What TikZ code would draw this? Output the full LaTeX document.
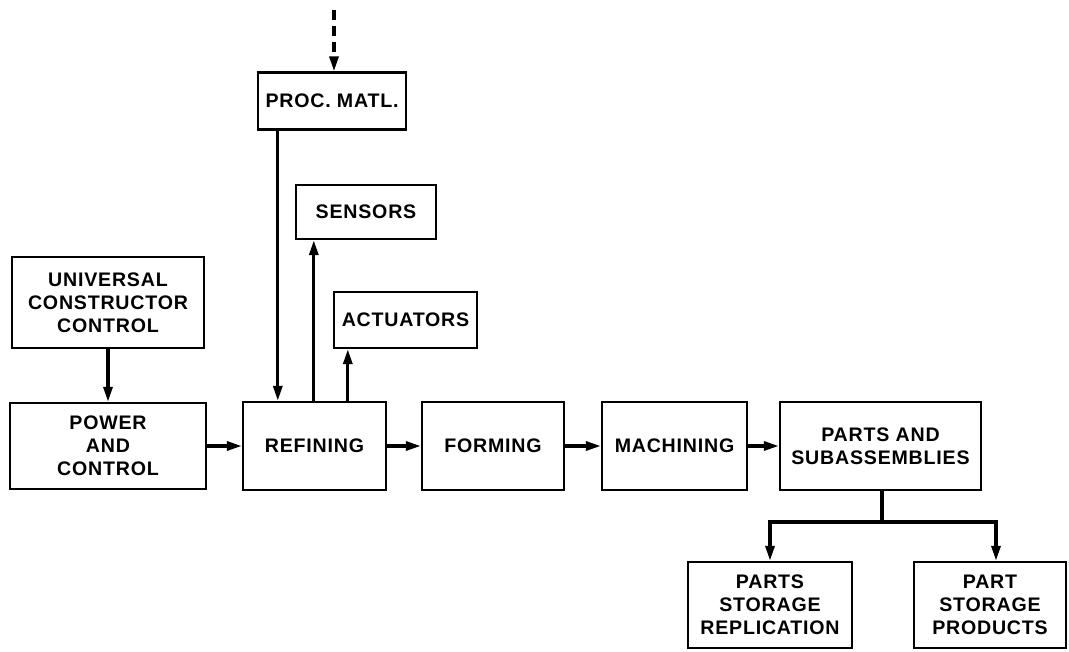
\documentclass[tikz,border=0pt]{standalone}
\usepackage{fontspec}
\setmainfont{Liberation Sans}[LetterSpace=4]
\usetikzlibrary{arrows.meta}
\begin{document}
\begin{tikzpicture}[x=1pt,y=-1pt,
  box/.style={draw, line width=2.4pt, inner sep=0pt, align=center,
    font=\fontsize{19.6}{23}\selectfont\bfseries},
  conn/.style={line width=3.2pt},
  arr/.style={conn, -{Triangle[length=15pt,width=9pt]}},
]
\useasboundingbox (0,0) rectangle (1069,652);

\node[box, minimum width=148pt, minimum height=57pt] (proc) at (332,101) {PROC. MATL.};
\node[box, minimum width=140pt, minimum height=54pt] (sens) at (366,212) {SENSORS};
\node[box, minimum width=143pt, minimum height=56pt] (act) at (405.5,320) {ACTUATORS};
\node[box, minimum width=192pt, minimum height=91pt] (ucc) at (108,302.5) {UNIVERSAL\\CONSTRUCTOR\\CONTROL};
\node[box, minimum width=196pt, minimum height=86pt] (pow) at (108,446) {POWER\\AND\\CONTROL};
\node[box, minimum width=143pt, minimum height=88pt] (refin) at (314.5,446) {REFINING};
\node[box, minimum width=142pt, minimum height=88pt] (form) at (493,446) {FORMING};
\node[box, minimum width=145pt, minimum height=88pt] (mach) at (674.5,446) {MACHINING};
\node[box, minimum width=201pt, minimum height=88pt] (parts) at (880.5,446) {PARTS AND\\SUBASSEMBLIES};
\node[box, minimum width=164pt, minimum height=86pt] (psr) at (770,605) {PARTS\\STORAGE\\REPLICATION};
\node[box, minimum width=152pt, minimum height=86pt] (psp) at (990,605) {PART\\STORAGE\\PRODUCTS};

% dashed input
\coordinate (src) at (334,10);
\draw[arr, dash pattern=on 10pt off 6pt] (src) -- (src |- proc.north);

% proc. matl. down to refining
\draw[arr] ([xshift=21pt]proc.south west) -- ([xshift=21pt]proc.south west |- refin.north);
% refining up to sensors and actuators
\draw[arr] ([xshift=72pt]refin.north west) -- ([xshift=72pt]refin.north west |- sens.south);
\draw[arr] ([xshift=106pt]refin.north west) -- ([xshift=106pt]refin.north west |- act.south);

% control
\draw[arr] (ucc.south) -- (pow.north);

% main chain
\draw[arr] (pow.east) -- (refin.west);
\draw[arr] (refin.east) -- (form.west);
\draw[arr] (form.east) -- (mach.west);
\draw[arr] (mach.east) -- (parts.west);

% branch
\coordinate (br) at (882,522);
\draw[conn] (parts.south -| br) -- (br);
\draw[arr] (br) -| (psr.north);
\draw[arr] (br) -| ([xshift=6pt]psp.north);
\end{tikzpicture}
\end{document}
